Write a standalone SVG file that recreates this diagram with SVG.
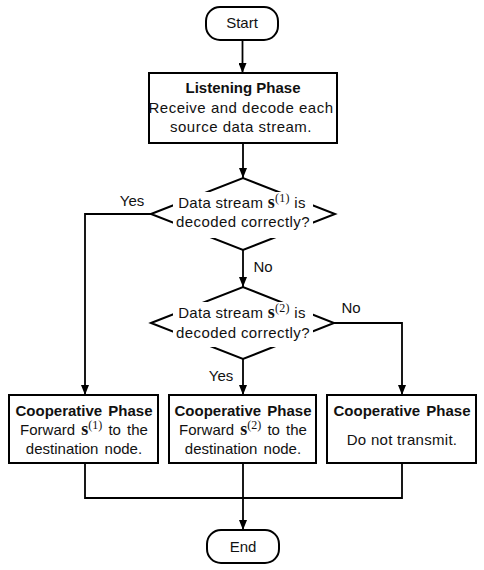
<svg xmlns="http://www.w3.org/2000/svg" width="484" height="570" viewBox="0 0 484 570">
<defs>
<marker id="arr" markerWidth="10" markerHeight="8" refX="10" refY="4" orient="auto" markerUnits="userSpaceOnUse">
<path d="M0,0 L10,4 L0,8 Z" fill="#000"/>
</marker>
<style>
.box{fill:#fff;stroke:#000;stroke-width:2}
.mask{fill:#fff;stroke:none}
.t{font-family:"Liberation Sans",Arial,sans-serif;font-size:15px;fill:#111;text-anchor:middle}
.b{font-weight:bold}
.s{font-family:"Liberation Serif","Times New Roman",serif;font-weight:bold;font-size:18px}
.sup{font-family:"Liberation Serif","Times New Roman",serif;font-size:12px}
.ln{fill:none;stroke:#000;stroke-width:1.8}
.ar{marker-end:url(#arr)}
</style>
</defs>
<rect width="484" height="570" fill="#fff"/>
<g id="connectors">
<path class="ln ar" d="M242.5,40 V73"/>
<path class="ln ar" d="M243,143 V178"/>
<path class="ln ar" d="M151,214 H85 V395"/>
<path class="ln ar" d="M243,250 V287"/>
<path class="ln ar" d="M334,323 H402 V395"/>
<path class="ln ar" d="M243,359 V395"/>
<path class="ln" d="M85,463 V498 H402 V463"/>
<path class="ln ar" d="M243,463 V530"/>
<text class="t" x="132" y="206">Yes</text>
<text class="t" x="263" y="272">No</text>
<text class="t" x="351" y="313">No</text>
<text class="t" x="221" y="381">Yes</text>
</g>
<g id="start">
<rect class="box" x="206" y="7" width="72" height="33" rx="14"/>
<text class="t" x="242" y="28">Start</text>
</g>
<g id="listening">
<rect class="box" x="149" y="73" width="188" height="70"/>
<text class="t b" x="243" y="93">Listening Phase</text>
<text class="t" x="241" y="113" letter-spacing="0.5">Receive and decode each</text>
<text class="t" x="241" y="132" letter-spacing="0.5">source data stream.</text>
</g>
<g id="decision1">
<polygon class="box" points="151,214 243,178 335,214 243,250"/>
<rect class="mask" x="173" y="192" width="140" height="46"/>
<text class="t" x="242" y="208" letter-spacing="0.3">Data stream <tspan class="s">s</tspan><tspan class="sup" dy="-6">(1)</tspan><tspan dy="6"> is</tspan></text>
<text class="t" x="243" y="227" letter-spacing="0.4">decoded correctly?</text>
</g>
<g id="decision2">
<polygon class="box" points="151,323 243,287 334,323 243,359"/>
<rect class="mask" x="173" y="302" width="140" height="45"/>
<text class="t" x="242" y="318" letter-spacing="0.3">Data stream <tspan class="s">s</tspan><tspan class="sup" dy="-6">(2)</tspan><tspan dy="6"> is</tspan></text>
<text class="t" x="243" y="338" letter-spacing="0.4">decoded correctly?</text>
</g>
<g id="coop1">
<rect class="box" x="9" y="395" width="149" height="68"/>
<text class="t b" x="84" y="416" word-spacing="2">Cooperative Phase</text>
<text class="t" x="84" y="435" word-spacing="2">Forward <tspan class="s">s</tspan><tspan class="sup" dy="-6">(1)</tspan><tspan dy="6"> to the</tspan></text>
<text class="t" x="84" y="454" word-spacing="2">destination node.</text>
</g>
<g id="coop2">
<rect class="box" x="169" y="395" width="147" height="68"/>
<text class="t b" x="243" y="416" word-spacing="2">Cooperative Phase</text>
<text class="t" x="243" y="435" word-spacing="2">Forward <tspan class="s">s</tspan><tspan class="sup" dy="-6">(2)</tspan><tspan dy="6"> to the</tspan></text>
<text class="t" x="243" y="454" word-spacing="2">destination node.</text>
</g>
<g id="coop3">
<rect class="box" x="327" y="395" width="149" height="68"/>
<text class="t b" x="402" y="416" word-spacing="2">Cooperative Phase</text>
<text class="t" x="402" y="445" letter-spacing="0.3">Do not transmit.</text>
</g>
<g id="end">
<rect class="box" x="207" y="530" width="72" height="33" rx="14"/>
<text class="t" x="243" y="552">End</text>
</g>
</svg>
